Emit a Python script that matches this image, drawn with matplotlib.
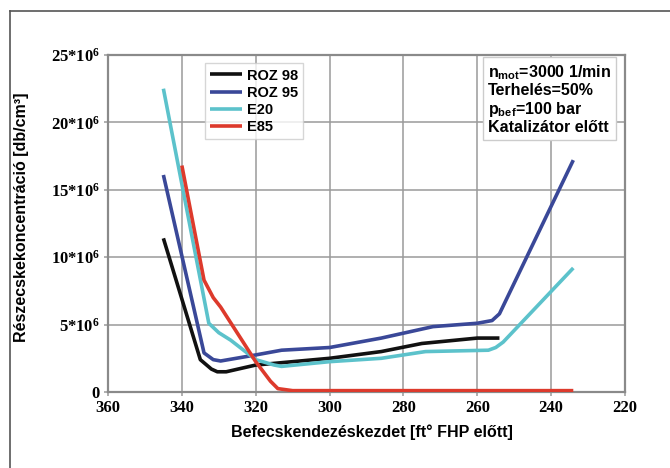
import matplotlib
matplotlib.use("Agg")
import matplotlib.pyplot as plt
from matplotlib.lines import Line2D

plt.rcParams['mathtext.fontset'] = 'custom'
plt.rcParams['mathtext.bf'] = 'Liberation Serif:bold'
plt.rcParams['mathtext.rm'] = 'Liberation Serif:bold'
plt.rcParams['mathtext.sf'] = 'Liberation Sans:bold'

# Befecskendezéskezdet [ft° FHP előtt] vs. részecskekoncentráció [10^6 db/cm³]
roz98_x = [345, 335, 332, 330.4, 328, 320, 300, 286, 275, 260, 254]
roz98_y = [11.4, 2.4, 1.7, 1.5, 1.5, 2.0, 2.5, 3.0, 3.6, 4.0, 4.0]

roz95_x = [345, 334, 331.5, 329.5, 320, 313, 300, 286, 272, 260, 256, 254, 234]
roz95_y = [16.1, 2.9, 2.4, 2.3, 2.75, 3.1, 3.3, 4.0, 4.85, 5.1, 5.3, 5.8, 17.2]

e20_x = [345, 332.7, 330, 326.8, 320, 315, 313, 300, 286, 274, 257, 255, 253, 234]
e20_y = [22.5, 5.1, 4.4, 3.85, 2.4, 2.0, 1.9, 2.25, 2.5, 3.0, 3.1, 3.3, 3.7, 9.2]

e85_x = [340, 334, 331.5, 329.5, 320, 316, 314, 310, 234]
e85_y = [16.8, 8.3, 7.0, 6.3, 2.25, 0.8, 0.25, 0.1, 0.1]

series = [
    ("ROZ 98", roz98_x, roz98_y, "#111111"),
    ("ROZ 95", roz95_x, roz95_y, "#3a4898"),
    ("E20", e20_x, e20_y, "#5cc2cb"),
    ("E85", e85_x, e85_y, "#dd3a2c"),
]

x_ticks = [360, 340, 320, 300, 280, 260, 240, 220]
y_ticks = [0, 5, 10, 15, 20, 25]
y_tick_labels = ["0"] + [r"$\mathbf{%d{*}10^{6}}$" % v for v in y_ticks[1:]]

info_lines = [
    r"n$_{\mathsf{mot}}$=3000 1/min",
    "Terhelés=50%",
    r"p$_{\mathsf{bef}}$=100 bar",
    "Katalizátor előtt",
]

fig = plt.figure(figsize=(6.7, 4.68), dpi=100)
ax = fig.add_axes([108 / 670, 76 / 468, 517 / 670, 337 / 468])

# outer frame (left and top edges visible)
fig.add_artist(Line2D([10 / 670, 10 / 670], [0, 1 - 11 / 468], color="#555555", lw=1.2,
                      transform=fig.transFigure))
fig.add_artist(Line2D([10 / 670, 1], [1 - 11 / 468, 1 - 11 / 468], color="#555555", lw=1.2,
                      transform=fig.transFigure))

for name, xs, ys, col in series:
    ax.plot(xs, ys, color=col, lw=2.6, label=name, solid_joinstyle="round",
            solid_capstyle="butt", zorder=3)

ax.set_xlim(360, 220)
ax.set_ylim(0, 25)
ax.set_xticks(x_ticks)
ax.set_yticks(y_ticks)
ax.set_yticklabels(y_tick_labels)
ax.grid(True, color="#9a9a9a", lw=1.1)
ax.set_axisbelow(True)
for sp in ax.spines.values():
    sp.set_color("#8a8a8a")
    sp.set_linewidth(1.6)
ax.tick_params(direction="out", length=3, width=1.1, color="#9a9a9a", pad=3)
for lbl in ax.get_xticklabels() + ax.get_yticklabels():
    lbl.set_fontfamily("Liberation Serif")
    lbl.set_fontweight("bold")
    lbl.set_fontsize(12)

ax.set_xlabel("Befecskendezéskezdet [ft° FHP előtt]", fontfamily="Liberation Sans",
              fontweight="bold", fontsize=11.5)
ax.xaxis.set_label_coords(0.51, -0.095)
ax.set_ylabel("Részecskekoncentráció [db/cm³]", fontfamily="Liberation Sans",
              fontweight="bold", fontsize=11.5)
ax.yaxis.set_label_coords(-0.153, 0.52)

leg = ax.legend(loc="upper left", bbox_to_anchor=(0.188, 0.975), borderaxespad=0,
                frameon=True, fancybox=False, handlelength=2.2, handletextpad=0.3,
                labelspacing=0.22, borderpad=0.35,
                prop={"family": "Liberation Sans", "weight": "bold", "size": 10.5})
leg.get_frame().set_edgecolor("#cccccc")
leg.get_frame().set_linewidth(1.0)

ax.text(0.735, 0.975, "\n".join(info_lines), transform=ax.transAxes, ha="left", va="top",
        fontfamily="Liberation Sans", fontweight="bold", fontsize=11.5, linespacing=1.1,
        bbox=dict(boxstyle="square,pad=0.3", facecolor="white", edgecolor="#cccccc", lw=1.0),
        zorder=5)

fig.savefig("out.png", dpi=100)
